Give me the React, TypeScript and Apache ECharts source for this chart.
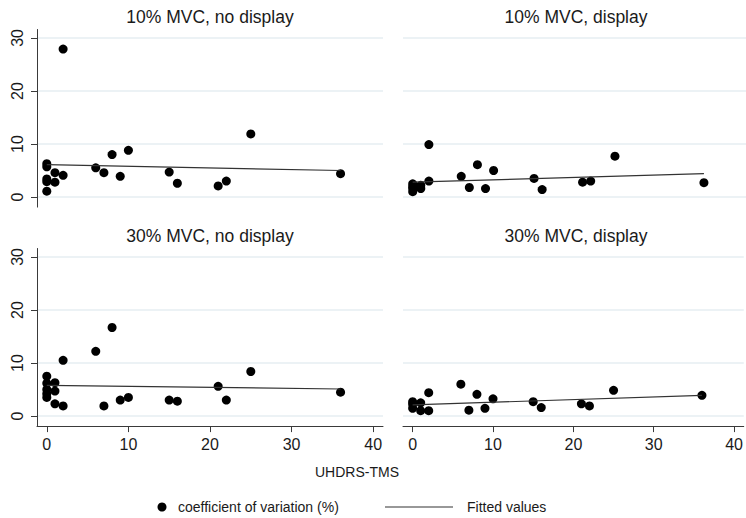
import React, { useEffect, useRef } from "react";
import * as echarts from "echarts";

const panelTitles = [
  "10% MVC, no display",
  "10% MVC, display",
  "30% MVC, no display",
  "30% MVC, display",
];

const tlX = [0, 0, 0, 0, 0, 1, 1, 2, 2, 6, 7, 8, 9, 10, 15, 16, 21, 22, 25, 36];
const tlY = [6.3, 5.7, 3.4, 2.9, 1.1, 4.6, 2.8, 27.9, 4.1, 5.5, 4.6, 8.0, 3.9, 8.8, 4.7, 2.6, 2.1, 3.0, 11.9, 4.4];

const trX = [0, 0, 0, 0, 1, 1, 2, 2, 6, 7, 8, 9, 10, 15, 16, 21, 22, 25, 36];
const trY = [2.5, 2.0, 1.6, 1.0, 2.2, 1.6, 9.9, 3.0, 3.9, 1.8, 6.1, 1.6, 5.0, 3.5, 1.4, 2.8, 3.0, 7.7, 2.7];

const blX = [0, 0, 0, 0, 0, 1, 1, 1, 2, 2, 6, 7, 8, 9, 10, 15, 16, 21, 22, 25, 36];
const blY = [7.5, 6.2, 5.0, 4.2, 3.5, 6.3, 4.7, 2.3, 10.5, 1.9, 12.2, 1.9, 16.7, 3.0, 3.5, 3.0, 2.8, 5.6, 3.0, 8.4, 4.5];

const brX = [0, 0, 0, 1, 1, 2, 2, 6, 7, 8, 9, 10, 15, 16, 21, 22, 25, 36];
const brY = [2.7, 2.2, 1.45, 2.5, 1.0, 4.4, 1.0, 6.0, 1.1, 4.1, 1.45, 3.25, 2.7, 1.6, 2.3, 1.9, 4.85, 3.9];

const fitX = [0, 36];
const fitTL = [6.1, 5.0];
const fitTR = [2.8, 4.4];
const fitBL = [5.8, 5.1];
const fitBR = [2.1, 3.9];

const xTicks = [0, 10, 20, 30, 40];
const yTicks = [0, 10, 20, 30];

const xAxisTitle = "UHDRS-TMS";
const legendLabels = ["coefficient of variation (%)", "Fitted values"];

const FONT = "'Liberation Sans', Arial, Helvetica, sans-serif";
const TEXT = "#1a1a1a";
const AXIS = "#3a3a3a";
const GRIDLINE = "#e6eef2";

const zip = (xs: number[], ys: number[]) => xs.map((x, i) => [x, ys[i]]);

export default function App() {
  const ref = useRef<HTMLDivElement>(null);

  useEffect(() => {
    if (!ref.current) return;
    const chart = echarts.init(ref.current, undefined, { renderer: "svg" });

    const lefts = [37, 403, 37, 403];
    const tops = [29.5, 29.5, 248.5, 248.5];
    const W = 346;
    const H = 177.6;

    const grids = lefts.map((l, i) => ({ left: l, top: tops[i], width: W, height: H }));

    const xAxes = [0, 1, 2, 3].map((i) => {
      const bottom = i >= 2;
      return {
        type: "value",
        gridIndex: i,
        min: -1.2,
        max: 41.2,
        axisLine: { show: bottom, onZero: false, lineStyle: { color: AXIS, width: 1 } },
        axisTick: {
          show: bottom,
          customValues: xTicks,
          length: 6,
          lineStyle: { color: AXIS, width: 1 },
        },
        axisLabel: {
          show: bottom,
          customValues: xTicks,
          fontSize: 16,
          color: TEXT,
          fontFamily: FONT,
          margin: 10,
        },
        splitLine: { show: false },
      };
    });

    const yAxes = [0, 1, 2, 3].map((i) => {
      const left = i % 2 === 0;
      return {
        type: "value",
        gridIndex: i,
        min: -1.9,
        max: 31.6,
        axisLine: { show: left, onZero: false, lineStyle: { color: AXIS, width: 1 } },
        axisTick: {
          show: left,
          customValues: yTicks,
          length: 6,
          lineStyle: { color: AXIS, width: 1 },
        },
        axisLabel: {
          show: left,
          customValues: yTicks,
          rotate: 90,
          fontSize: 16,
          color: TEXT,
          fontFamily: FONT,
          margin: 12,
        },
        splitLine: { show: true, lineStyle: { color: GRIDLINE, width: 1.5 } },
      };
    });

    const scatterData = [zip(tlX, tlY), zip(trX, trY), zip(blX, blY), zip(brX, brY)];
    const fits = [fitTL, fitTR, fitBL, fitBR];

    const series: any[] = [];
    scatterData.forEach((d, i) => {
      series.push({
        type: "scatter",
        name: legendLabels[0],
        xAxisIndex: i,
        yAxisIndex: i,
        data: d,
        symbol: "circle",
        symbolSize: 9,
        itemStyle: { color: "#000", opacity: 1 },
        z: 3,
      });
      series.push({
        type: "line",
        name: legendLabels[1],
        xAxisIndex: i,
        yAxisIndex: i,
        data: zip(fitX, fits[i]),
        symbol: "none",
        lineStyle: { color: "#333", width: 1.2 },
        z: 4,
      });
    });

    const titleCenters = [210, 576, 210, 576];
    const titleYs = [16.5, 16.5, 235.5, 235.5];

    const graphic: any[] = [];
    panelTitles.forEach((t, i) => {
      graphic.push({
        type: "text",
        x: titleCenters[i],
        y: titleYs[i],
        style: {
          text: t,
          fontSize: 17.5,
          fontFamily: FONT,
          fill: TEXT,
          textAlign: "center",
          textVerticalAlign: "middle",
        },
      });
    });
    graphic.push({
      type: "text",
      x: 357,
      y: 472,
      style: {
        text: xAxisTitle,
        fontSize: 14,
        fontFamily: FONT,
        fill: TEXT,
        textAlign: "center",
        textVerticalAlign: "middle",
      },
    });
    graphic.push({
      type: "circle",
      shape: { cx: 162, cy: 507, r: 4.5 },
      style: { fill: "#000" },
    });
    graphic.push({
      type: "text",
      x: 178,
      y: 507,
      style: {
        text: legendLabels[0],
        fontSize: 14,
        fontFamily: FONT,
        fill: TEXT,
        textAlign: "left",
        textVerticalAlign: "middle",
      },
    });
    graphic.push({
      type: "line",
      shape: { x1: 385, y1: 507, x2: 453, y2: 507 },
      style: { stroke: "#333", lineWidth: 1.2 },
    });
    graphic.push({
      type: "text",
      x: 467,
      y: 507,
      style: {
        text: legendLabels[1],
        fontSize: 14,
        fontFamily: FONT,
        fill: TEXT,
        textAlign: "left",
        textVerticalAlign: "middle",
      },
    });

    chart.setOption({
      animation: false,
      backgroundColor: "#ffffff",
      textStyle: { fontFamily: FONT },
      grid: grids,
      xAxis: xAxes,
      yAxis: yAxes,
      series,
      graphic,
    });

    return () => chart.dispose();
  }, []);

  return (
    <div
      ref={ref}
      style={{ position: "fixed", left: 0, top: 0, width: 746, height: 518, background: "#fff" }}
    />
  );
}
